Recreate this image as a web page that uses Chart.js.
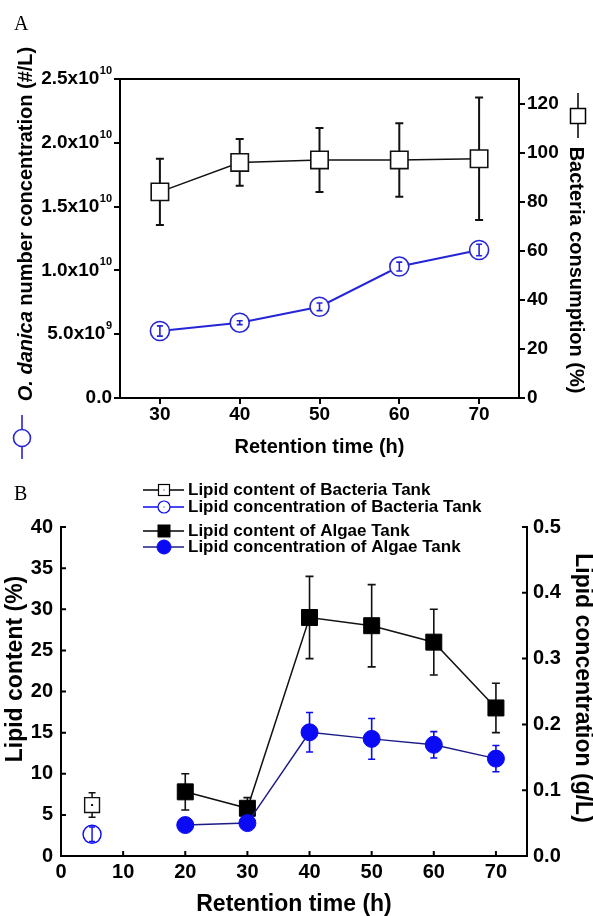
<!DOCTYPE html>
<html>
<head>
<meta charset="utf-8">
<script src="https://cdn.jsdelivr.net/npm/chart.js@4.4.0/dist/chart.umd.min.js"></script>
<style>
    html, body { margin: 0; padding: 0; background: #fff; }
    #wrap { position: relative; width: 593px; height: 916px; }
    canvas { position: absolute; left: 0; }
    #chartA { top: 0; }
    #chartB { top: 460px; }
</style>
</head>
<body>
<div id="wrap">
    <canvas id="chartA" width="593" height="460"></canvas>
    <canvas id="chartB" width="593" height="456"></canvas>
</div>
<script>
// panel A: bakteri vs O. danica
const timeA = [30, 40, 50, 60, 70];
const bacteriaConsumption = [84, 96, 97, 97, 97.5];
const bacteriaConsumptionErr = [13.5, 9.5, 13, 15, 25];
const danicaConc = [5.25e9, 5.9e9, 7.15e9, 1.03e10, 1.16e10];
const danicaConcErr = [4e8, 1.5e8, 3e8, 3.5e8, 4.5e8];
const ticksAx = [30, 40, 50, 60, 70];
const ticksAleft = [0, 5e9, 1e10, 1.5e10, 2e10, 2.5e10];
const ticksAright = [0, 20, 40, 60, 80, 100, 120];

// panel B: lipid
const timeB = [20, 30, 40, 50, 60, 70];
const lipidContentAlgae = [7.8, 5.8, 29, 28, 26, 18];
const lipidContentAlgaeErr = [2.2, 1.3, 5, 5, 4, 3];
const lipidConcAlgae = [0.047, 0.05, 0.188, 0.178, 0.169, 0.148];
const lipidConcAlgaeErr = [0, 0, 0.03, 0.031, 0.02, 0.02];
const timeBacteriaTank = [5];
const lipidContentBacteria = [6.2];
const lipidContentBacteriaErr = [1.5];
const lipidConcBacteria = [0.033];
const lipidConcBacteriaErr = [0.011];
const ticksBx = [0, 10, 20, 30, 40, 50, 60, 70];
const ticksBleft = [0, 5, 10, 15, 20, 25, 30, 35, 40];
const ticksBright = [0, 0.1, 0.2, 0.3, 0.4, 0.5];
const legendB = [
    'Lipid content of Bacteria Tank',
    'Lipid concentration of Bacteria Tank',
    'Lipid content of Algae Tank',
    'Lipid concentration of Algae Tank'
];

const FONT = '"Liberation Sans", Arial, sans-serif';
const SERIF = '"Liberation Serif", "Times New Roman", serif';
const BLUE_A = '#2626d6';
const BLUE_B = '#0a0af5';
const NAVY = '#1c1c86';

function pts(xs, ys) {
    return xs.map((x, i) => ({ x: x, y: ys[i] }));
}
function setTicks(vals) {
    return s => { s.ticks = vals.map(v => ({ value: v })); };
}
function fixWidth(w) { return s => { s.width = w; }; }
function fixHeight(h) { return s => { s.height = h; }; }

// error bar di-gambar pakai skala chart
function drawErr(chart, i) {
    const ds = chart.data.datasets[i];
    if (!ds.errorBars) return;
    const meta = chart.getDatasetMeta(i);
    const yScale = chart.scales[meta.yAxisID];
    const ctx = chart.ctx;
    const c = ds.capHalf || 4;
    ctx.save();
    ctx.strokeStyle = ds.errColor;
    ctx.lineWidth = ds.errWidth || 2;
    meta.data.forEach((pt, j) => {
        const e = ds.errorBars[j];
        if (!e) return;
        const v = ds.data[j].y;
        const yt = yScale.getPixelForValue(v + e);
        const yb = yScale.getPixelForValue(v - e);
        ctx.beginPath();
        ctx.moveTo(pt.x, yt); ctx.lineTo(pt.x, yb);
        ctx.moveTo(pt.x - c, yt); ctx.lineTo(pt.x + c, yt);
        ctx.moveTo(pt.x - c, yb); ctx.lineTo(pt.x + c, yb);
        ctx.stroke();
    });
    ctx.restore();
}

const errorBarPlugin = {
    id: 'errorBars',
    beforeDatasetDraw(chart, args) {
        if (chart.data.datasets[args.index].errBehind) drawErr(chart, args.index);
    },
    afterDatasetDraw(chart, args) {
        const ds = chart.data.datasets[args.index];
        if (!ds.errBehind) drawErr(chart, args.index);
        if (ds.centerDot) {
            const ctx = chart.ctx;
            ctx.save();
            ctx.fillStyle = ds.pointBorderColor;
            args.meta.data.forEach(pt => ctx.fillRect(pt.x - 1, pt.y - 1, 2, 2));
            ctx.restore();
        }
    }
};

function rotatedText(ctx, parts, x, y, angle) {
    ctx.save();
    ctx.translate(x, y);
    ctx.rotate(angle);
    ctx.textBaseline = 'middle';
    ctx.textAlign = 'left';
    ctx.fillStyle = '#000';
    let total = 0;
    parts.forEach(p => { ctx.font = p.font; p.w = ctx.measureText(p.text).width; total += p.w; });
    let cx = -total / 2;
    parts.forEach(p => { ctx.font = p.font; ctx.fillText(p.text, cx, 0); cx += p.w; });
    ctx.restore();
}

function squareMark(ctx, x, y, side, fill, stroke, lw) {
    ctx.fillStyle = fill;
    ctx.fillRect(x - side / 2, y - side / 2, side, side);
    ctx.strokeStyle = stroke;
    ctx.lineWidth = lw;
    ctx.strokeRect(x - side / 2, y - side / 2, side, side);
}
function circleMark(ctx, x, y, r, fill, stroke, lw) {
    ctx.beginPath();
    ctx.arc(x, y, r, 0, Math.PI * 2);
    ctx.fillStyle = fill;
    ctx.fill();
    ctx.strokeStyle = stroke;
    ctx.lineWidth = lw;
    ctx.stroke();
}

// dekorasi panel A
const panelAPlugin = {
    id: 'panelA',
    afterDraw(chart) {
        const ctx = chart.ctx;
        const area = chart.chartArea;
        ctx.save();
        // garis bingkai atas
        ctx.strokeStyle = '#000';
        ctx.lineWidth = 2;
        ctx.beginPath();
        ctx.moveTo(area.left - 1, area.top);
        ctx.lineTo(area.right + 1, area.top);
        ctx.stroke();

        // label tick kiri dengan pangkat
        const yS = chart.scales.y;
        ctx.fillStyle = '#000';
        ctx.textBaseline = 'middle';
        ctx.textAlign = 'right';
        yS.ticks.forEach(t => {
            const py = yS.getPixelForValue(t.value);
            if (t.value === 0) {
                ctx.font = 'bold 19px ' + FONT;
                ctx.fillText('0.0', 112, py);
                return;
            }
            const exp = Math.floor(Math.log10(t.value) + 1e-9);
            const mant = (t.value / Math.pow(10, exp)).toFixed(1);
            ctx.font = 'bold 11px ' + FONT;
            const sw = ctx.measureText(String(exp)).width;
            ctx.fillText(String(exp), 112, py - 8);
            ctx.font = 'bold 19px ' + FONT;
            ctx.fillText(mant + 'x10', 112 - sw - 0.5, py);
        });

        // huruf panel
        ctx.textAlign = 'left';
        ctx.textBaseline = 'alphabetic';
        ctx.font = '20px ' + SERIF;
        ctx.fillText('A', 14, 30);

        // judul sumbu
        ctx.textAlign = 'center';
        ctx.textBaseline = 'middle';
        ctx.font = 'bold 20px ' + FONT;
        ctx.fillText('Retention time (h)', (area.left + area.right) / 2, 447);

        rotatedText(ctx, [
            { text: 'O. danica', font: 'italic bold 20px ' + FONT },
            { text: ' number concentration (#/L)', font: 'bold 20px ' + FONT }
        ], 26, 224, -Math.PI / 2);
        rotatedText(ctx, [
            { text: 'Bacteria consumption (%)', font: 'bold 20px ' + FONT }
        ], 576, 270, Math.PI / 2);

        // simbol legenda di sumbu
        ctx.strokeStyle = BLUE_A;
        ctx.lineWidth = 1.6;
        ctx.beginPath();
        ctx.moveTo(22, 415); ctx.lineTo(22, 459);
        ctx.stroke();
        circleMark(ctx, 22, 438, 8.5, '#fff', BLUE_A, 1.6);

        ctx.strokeStyle = '#000';
        ctx.lineWidth = 1.5;
        ctx.beginPath();
        ctx.moveTo(578, 93); ctx.lineTo(578, 138);
        ctx.stroke();
        squareMark(ctx, 578, 116, 15, '#fff', '#000', 1.5);
        ctx.restore();
    }
};

// dekorasi panel B
const panelBPlugin = {
    id: 'panelB',
    afterDraw(chart) {
        const ctx = chart.ctx;
        const area = chart.chartArea;
        const xS = chart.scales.x, yS = chart.scales.y, y2S = chart.scales.y2;
        ctx.save();
        // tick ke dalam
        ctx.strokeStyle = '#000';
        ctx.lineWidth = 2;
        ctx.beginPath();
        xS.ticks.forEach(t => {
            const px = xS.getPixelForValue(t.value);
            ctx.moveTo(px, area.bottom); ctx.lineTo(px, area.bottom - 5);
        });
        yS.ticks.forEach(t => {
            const py = yS.getPixelForValue(t.value);
            ctx.moveTo(area.left, py); ctx.lineTo(area.left + 5, py);
        });
        y2S.ticks.forEach(t => {
            const py = y2S.getPixelForValue(t.value);
            ctx.moveTo(area.right, py); ctx.lineTo(area.right - 5, py);
        });
        ctx.stroke();

        ctx.fillStyle = '#000';
        ctx.textAlign = 'left';
        ctx.textBaseline = 'alphabetic';
        ctx.font = '20px ' + SERIF;
        ctx.fillText('B', 14, 40);

        ctx.textAlign = 'center';
        ctx.textBaseline = 'middle';
        ctx.font = 'bold 23px ' + FONT;
        ctx.fillText('Retention time (h)', (area.left + area.right) / 2, 445);
        rotatedText(ctx, [{ text: 'Lipid content (%)', font: 'bold 23px ' + FONT }], 16, 209, -Math.PI / 2);
        rotatedText(ctx, [{ text: 'Lipid concentration (g/L)', font: 'bold 23px ' + FONT }], 582, 228, Math.PI / 2);

        // legenda
        const rows = [30, 47, 71, 87];
        const lineCol = ['#000', BLUE_B, '#000', NAVY];
        rows.forEach((ry, i) => {
            ctx.strokeStyle = lineCol[i];
            ctx.lineWidth = 1.6;
            ctx.beginPath();
            ctx.moveTo(143, ry); ctx.lineTo(184, ry);
            ctx.stroke();
            if (i === 0) {
                squareMark(ctx, 164, ry, 11, '#fff', '#000', 1.2);
                ctx.fillStyle = '#000';
                ctx.fillRect(163.5, ry - 0.5, 1, 1);
            } else if (i === 1) {
                circleMark(ctx, 164, ry, 6, '#fff', BLUE_B, 1.2);
                ctx.fillStyle = BLUE_B;
                ctx.fillRect(163.5, ry - 0.5, 1, 1);
            } else if (i === 2) {
                squareMark(ctx, 164, ry, 12, '#000', '#000', 1);
            } else {
                circleMark(ctx, 164, ry, 7, BLUE_B, BLUE_B, 1);
            }
            ctx.fillStyle = '#000';
            ctx.textAlign = 'left';
            ctx.font = 'bold 17px ' + FONT;
            ctx.fillText(legendB[i], 188, ry + 0.5);
        });
        ctx.restore();
    }
};

const tickFontA = { family: FONT, size: 19, weight: 'bold', lineHeight: 1 };
const tickFontB = { family: FONT, size: 20, weight: 'bold', lineHeight: 1 };
const gridA = { display: true, drawOnChartArea: false, drawTicks: true, tickLength: 6, color: '#000', lineWidth: 2 };
const gridB = { display: false, drawTicks: false };
const borderBlack = { display: true, color: '#000', width: 2 };

new Chart(document.getElementById('chartA'), {
    type: 'scatter',
    data: {
        datasets: [
            {
                label: 'Bacteria consumption (%)',
                data: pts(timeA, bacteriaConsumption),
                yAxisID: 'y2',
                showLine: true,
                borderColor: '#111',
                borderWidth: 1.5,
                pointStyle: 'rect',
                pointRadius: 12.3,
                pointBorderWidth: 1.6,
                pointBackgroundColor: '#fff',
                pointBorderColor: '#111',
                errorBars: bacteriaConsumptionErr,
                errColor: '#111',
                errWidth: 2,
                capHalf: 4,
                errBehind: true,
                clip: false,
                order: 2
            },
            {
                label: 'O. danica number concentration (#/L)',
                data: pts(timeA, danicaConc),
                yAxisID: 'y',
                showLine: true,
                borderColor: BLUE_A,
                borderWidth: 2,
                pointStyle: 'circle',
                pointRadius: 9.5,
                pointBorderWidth: 1.6,
                pointBackgroundColor: '#fff',
                pointBorderColor: BLUE_A,
                errorBars: danicaConcErr,
                errColor: BLUE_A,
                errWidth: 1.6,
                capHalf: 3,
                errBehind: false,
                clip: false,
                order: 1
            }
        ]
    },
    options: {
        responsive: false,
        animation: false,
        events: [],
        layout: { padding: { top: 79, left: 0, right: 0, bottom: 0 } },
        plugins: { legend: { display: false }, tooltip: { enabled: false } },
        scales: {
            x: {
                type: 'linear', position: 'bottom', min: 25, max: 75,
                afterBuildTicks: setTicks(ticksAx), afterFit: fixHeight(62),
                grid: gridA, border: borderBlack,
                ticks: { font: tickFontA, color: '#000', padding: 1, autoSkip: false, maxRotation: 0 }
            },
            y: {
                type: 'linear', position: 'left', min: 0, max: 2.5e10,
                afterBuildTicks: setTicks(ticksAleft), afterFit: fixWidth(120),
                grid: gridA, border: borderBlack,
                ticks: { font: tickFontA, color: '#000', callback: () => '' }
            },
            y2: {
                type: 'linear', position: 'right', min: 0, max: 130,
                afterBuildTicks: setTicks(ticksAright), afterFit: fixWidth(74),
                grid: gridA, border: borderBlack,
                ticks: { font: tickFontA, color: '#000', padding: 2, autoSkip: false }
            }
        }
    },
    plugins: [errorBarPlugin, panelAPlugin]
});

new Chart(document.getElementById('chartB'), {
    type: 'scatter',
    data: {
        datasets: [
            {
                label: legendB[0],
                data: pts(timeBacteriaTank, lipidContentBacteria),
                yAxisID: 'y',
                showLine: false,
                pointStyle: 'rect',
                pointRadius: 10.5,
                pointBorderWidth: 1.4,
                pointBackgroundColor: '#fff',
                pointBorderColor: '#111',
                errorBars: lipidContentBacteriaErr,
                errColor: '#111',
                errWidth: 1.5,
                capHalf: 3.5,
                errBehind: true,
                centerDot: true,
                clip: false,
                order: 4
            },
            {
                label: legendB[1],
                data: pts(timeBacteriaTank, lipidConcBacteria),
                yAxisID: 'y2',
                showLine: false,
                pointStyle: 'circle',
                pointRadius: 9,
                pointBorderWidth: 1.4,
                pointBackgroundColor: '#fff',
                pointBorderColor: BLUE_B,
                errorBars: lipidConcBacteriaErr,
                errColor: BLUE_B,
                errWidth: 1.4,
                capHalf: 3,
                errBehind: false,
                clip: false,
                order: 3
            },
            {
                label: legendB[2],
                data: pts(timeB, lipidContentAlgae),
                yAxisID: 'y',
                showLine: true,
                borderColor: '#111',
                borderWidth: 1.5,
                pointStyle: 'rect',
                pointRadius: 11.3,
                pointBorderWidth: 1,
                pointBackgroundColor: '#000',
                pointBorderColor: '#000',
                errorBars: lipidContentAlgaeErr,
                errColor: '#111',
                errWidth: 1.6,
                capHalf: 4,
                errBehind: true,
                clip: false,
                order: 2
            },
            {
                label: legendB[3],
                data: pts(timeB, lipidConcAlgae),
                yAxisID: 'y2',
                showLine: true,
                borderColor: NAVY,
                borderWidth: 1.5,
                pointStyle: 'circle',
                pointRadius: 8.5,
                pointBorderWidth: 1,
                pointBackgroundColor: BLUE_B,
                pointBorderColor: BLUE_B,
                errorBars: lipidConcAlgaeErr,
                errColor: BLUE_B,
                errWidth: 1.6,
                capHalf: 3.5,
                errBehind: true,
                clip: false,
                order: 1
            }
        ]
    },
    options: {
        responsive: false,
        animation: false,
        events: [],
        layout: { padding: { top: 67, left: 0, right: 0, bottom: 0 } },
        plugins: { legend: { display: false }, tooltip: { enabled: false } },
        scales: {
            x: {
                type: 'linear', position: 'bottom', min: 0, max: 75,
                afterBuildTicks: setTicks(ticksBx), afterFit: fixHeight(60),
                grid: gridB, border: borderBlack,
                ticks: { font: tickFontB, color: '#000', padding: 6, autoSkip: false, maxRotation: 0 }
            },
            y: {
                type: 'linear', position: 'left', min: 0, max: 40,
                afterBuildTicks: setTicks(ticksBleft), afterFit: fixWidth(61),
                grid: gridB, border: borderBlack,
                ticks: { font: tickFontB, color: '#000', padding: 8, autoSkip: false }
            },
            y2: {
                type: 'linear', position: 'right', min: 0, max: 0.5,
                afterBuildTicks: setTicks(ticksBright), afterFit: fixWidth(66),
                grid: gridB, border: borderBlack,
                ticks: { font: tickFontB, color: '#000', padding: 6, autoSkip: false, callback: v => v.toFixed(1) }
            }
        }
    },
    plugins: [errorBarPlugin, panelBPlugin]
});
</script>
</body>
</html>
